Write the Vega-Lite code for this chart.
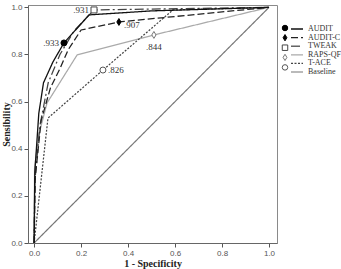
{
  "$schema": "https://vega.github.io/schema/vega-lite/v6.json",
  "width": 249,
  "height": 238,
  "autosize": "none",
  "padding": {"left": 28, "top": 5, "right": 64, "bottom": 26},
  "background": "white",
  "config": {
    "view": {"stroke": "#8a8a8a", "strokeWidth": 1},
    "axis": {
      "grid": false,
      "labelFont": "Liberation Sans",
      "labelFontSize": 8,
      "labelColor": "#555",
      "tickColor": "#555",
      "tickSize": 4,
      "domainColor": "#666",
      "labelPadding": 2,
      "titleFont": "Liberation Serif",
      "titleFontWeight": "bold",
      "titleFontSize": 10,
      "titleColor": "#222"
    },
    "legend": {
      "padding": 0,
      "rowPadding": 0.6,
      "labelOffset": 7,
      "labelFont": "Liberation Serif",
      "labelFontSize": 8,
      "labelColor": "#333",
      "symbolStrokeWidth": 1,
      "symbolSize": 36
    }
  },
  "datasets": {
    "curves": [
      {"series": "Baseline", "fpr": 0, "tpr": 0},
      {"series": "Baseline", "fpr": 1, "tpr": 1},
      {"series": "RAPS-QF", "fpr": 0, "tpr": 0},
      {"series": "RAPS-QF", "fpr": 0.002, "tpr": 0.32},
      {"series": "RAPS-QF", "fpr": 0.02, "tpr": 0.46},
      {"series": "RAPS-QF", "fpr": 0.055, "tpr": 0.594},
      {"series": "RAPS-QF", "fpr": 0.183, "tpr": 0.798},
      {"series": "RAPS-QF", "fpr": 0.51, "tpr": 0.883},
      {"series": "RAPS-QF", "fpr": 1, "tpr": 1},
      {"series": "T-ACE", "fpr": 0, "tpr": 0},
      {"series": "T-ACE", "fpr": 0.059, "tpr": 0.53},
      {"series": "T-ACE", "fpr": 0.293, "tpr": 0.734},
      {"series": "T-ACE", "fpr": 0.591, "tpr": 0.989},
      {"series": "T-ACE", "fpr": 1, "tpr": 1},
      {"series": "TWEAK", "fpr": 0, "tpr": 0},
      {"series": "TWEAK", "fpr": 0.003, "tpr": 0.26},
      {"series": "TWEAK", "fpr": 0.025, "tpr": 0.5},
      {"series": "TWEAK", "fpr": 0.06, "tpr": 0.68},
      {"series": "TWEAK", "fpr": 0.11, "tpr": 0.8},
      {"series": "TWEAK", "fpr": 0.17, "tpr": 0.9},
      {"series": "TWEAK", "fpr": 0.255, "tpr": 0.989},
      {"series": "TWEAK", "fpr": 1, "tpr": 1},
      {"series": "AUDIT-C", "fpr": 0, "tpr": 0},
      {"series": "AUDIT-C", "fpr": 0.005, "tpr": 0.28},
      {"series": "AUDIT-C", "fpr": 0.03, "tpr": 0.52},
      {"series": "AUDIT-C", "fpr": 0.07, "tpr": 0.66},
      {"series": "AUDIT-C", "fpr": 0.11, "tpr": 0.74},
      {"series": "AUDIT-C", "fpr": 0.145, "tpr": 0.82},
      {"series": "AUDIT-C", "fpr": 0.2, "tpr": 0.904},
      {"series": "AUDIT-C", "fpr": 0.361, "tpr": 0.938},
      {"series": "AUDIT-C", "fpr": 1, "tpr": 1},
      {"series": "AUDIT", "fpr": 0, "tpr": 0},
      {"series": "AUDIT", "fpr": 0.003, "tpr": 0.3},
      {"series": "AUDIT", "fpr": 0.02, "tpr": 0.55},
      {"series": "AUDIT", "fpr": 0.04, "tpr": 0.68},
      {"series": "AUDIT", "fpr": 0.08, "tpr": 0.768},
      {"series": "AUDIT", "fpr": 0.127, "tpr": 0.849},
      {"series": "AUDIT", "fpr": 0.234, "tpr": 0.968},
      {"series": "AUDIT", "fpr": 0.5, "tpr": 0.985},
      {"series": "AUDIT", "fpr": 1, "tpr": 1}
    ],
    "markers": [
      {"series": "AUDIT", "fpr": 0.127, "tpr": 0.849, "auc": ".933"},
      {"series": "AUDIT-C", "fpr": 0.361, "tpr": 0.938, "auc": ".907"},
      {"series": "TWEAK", "fpr": 0.255, "tpr": 0.989, "auc": ".931"},
      {"series": "RAPS-QF", "fpr": 0.51, "tpr": 0.883, "auc": ".844"},
      {"series": "T-ACE", "fpr": 0.293, "tpr": 0.734, "auc": ".826"}
    ]
  },
  "encoding": {
    "x": {
      "field": "fpr", "type": "quantitative",
      "scale": {"domain": [-0.026, 1.034], "nice": false, "zero": false},
      "axis": {"values": [0, 0.2, 0.4, 0.6, 0.8, 1.0], "format": ".1f", "title": "1 - Specificity", "titlePadding": 1}
    },
    "y": {
      "field": "tpr", "type": "quantitative",
      "scale": {"domain": [0, 1.01], "nice": false, "zero": false},
      "axis": {"values": [0, 0.2, 0.4, 0.6, 0.8, 1.0], "format": ".1f", "title": "Sensibility", "titleBaseline": "alphabetic", "titleX": -19}
    }
  },
  "layer": [
    {
      "data": {"name": "curves"},
      "mark": {"type": "line", "interpolate": "linear"},
      "encoding": {
        "color": {
          "field": "series", "type": "nominal",
          "scale": {"domain": ["AUDIT", "AUDIT-C", "TWEAK", "RAPS-QF", "T-ACE", "Baseline"],
                    "range": ["#111111", "#222222", "#444444", "#aaaaaa", "#444444", "#777777"]},
          "legend": {"title": null, "orient": "none", "legendX": 265, "legendY": 20, "symbolType": "M -2 0 L 2 0", "symbolSize": 36}
        },
        "strokeDash": {
          "field": "series", "type": "nominal",
          "scale": {"domain": ["AUDIT", "AUDIT-C", "TWEAK", "RAPS-QF", "T-ACE", "Baseline"],
                    "range": [[1, 0], [7, 3], [9, 3, 2, 3], [1, 0], [2, 1.5], [1, 0]]},
          "legend": {"title": null, "orient": "none", "legendX": 265, "legendY": 20, "symbolType": "M -2 0 L 2 0", "symbolSize": 36}
        },
        "strokeWidth": {
          "field": "series", "type": "nominal", "legend": null,
          "scale": {"domain": ["AUDIT", "AUDIT-C", "TWEAK", "RAPS-QF", "T-ACE", "Baseline"],
                    "range": [1.3, 1.2, 1, 1, 1, 1]}
        }
      }
    },
    {
      "data": {"name": "markers"},
      "mark": {"type": "point", "filled": false, "size": 36, "strokeWidth": 1, "opacity": 1},
      "encoding": {
        "shape": {
          "field": "series", "type": "nominal",
          "scale": {"domain": ["AUDIT", "AUDIT-C", "TWEAK", "RAPS-QF", "T-ACE"],
                    "range": ["circle", "M 0 -1.15 L 0.7 0 L 0 1.15 L -0.7 0 Z", "square", "M 0 -1.15 L 0.7 0 L 0 1.15 L -0.7 0 Z", "circle"]},
          "legend": {"title": null, "orient": "none", "legendX": 253, "legendY": 19, "labelExpr": "''", "rowPadding": -1.3, "symbolSize": 30}
        },
        "fill": {
          "field": "series", "type": "nominal",
          "scale": {"domain": ["AUDIT", "AUDIT-C", "TWEAK", "RAPS-QF", "T-ACE"],
                    "range": ["#000000", "#000000", "#ffffff", "#ffffff", "#ffffff"]},
          "legend": {"title": null, "orient": "none", "legendX": 253, "legendY": 19, "labelExpr": "''", "rowPadding": -1.3, "symbolSize": 30}
        },
        "stroke": {
          "field": "series", "type": "nominal",
          "scale": {"domain": ["AUDIT", "AUDIT-C", "TWEAK", "RAPS-QF", "T-ACE"],
                    "range": ["#000000", "#000000", "#444444", "#777777", "#555555"]},
          "legend": {"title": null, "orient": "none", "legendX": 253, "legendY": 19, "labelExpr": "''", "rowPadding": -1.3, "symbolSize": 30}
        }
      }
    },
    {
      "data": {"name": "markers"},
      "transform": [{"filter": "datum.series == 'AUDIT' || datum.series == 'TWEAK'"}],
      "mark": {"type": "text", "align": "right", "baseline": "middle", "dx": -5, "font": "Liberation Serif", "fontSize": 9, "color": "#333"},
      "encoding": {"text": {"field": "auc"}}
    },
    {
      "data": {"name": "markers"},
      "transform": [{"filter": "datum.series == 'AUDIT-C'"}],
      "mark": {"type": "text", "align": "left", "baseline": "middle", "dx": 5, "dy": 3, "font": "Liberation Serif", "fontSize": 9, "color": "#333"},
      "encoding": {"text": {"field": "auc"}}
    },
    {
      "data": {"name": "markers"},
      "transform": [{"filter": "datum.series == 'T-ACE'"}],
      "mark": {"type": "text", "align": "left", "baseline": "middle", "dx": 5, "font": "Liberation Serif", "fontSize": 9, "color": "#333"},
      "encoding": {"text": {"field": "auc"}}
    },
    {
      "data": {"name": "markers"},
      "transform": [{"filter": "datum.series == 'RAPS-QF'"}],
      "mark": {"type": "text", "align": "center", "baseline": "middle", "dy": 12, "font": "Liberation Serif", "fontSize": 9, "color": "#333"},
      "encoding": {"text": {"field": "auc"}}
    }
  ]
}
